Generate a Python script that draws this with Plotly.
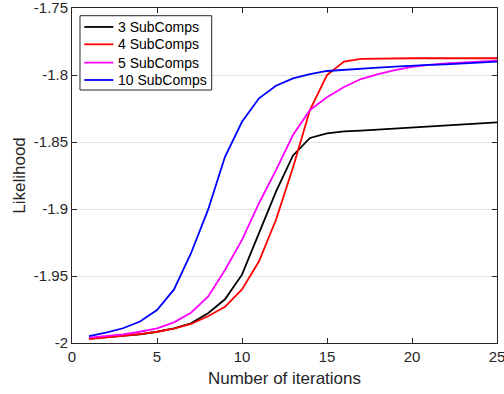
import plotly.graph_objects as go

iterations = list(range(1, 26))

sub3 = [-1.9968, -1.9957, -1.9948, -1.9935, -1.9916, -1.9890, -1.9853, -1.9778, -1.9674, -1.9490,
        -1.9180, -1.8870, -1.8600, -1.8470, -1.8435, -1.8420, -1.8415, -1.8407, -1.8400, -1.8392,
        -1.8385, -1.8377, -1.8370, -1.8360, -1.8353]
sub4 = [-1.9970, -1.9957, -1.9948, -1.9933, -1.9916, -1.9893, -1.9858, -1.9800, -1.9730, -1.9600,
        -1.9390, -1.9080, -1.8690, -1.8260, -1.8000, -1.7900, -1.7880, -1.7877, -1.7876, -1.7875,
        -1.7875, -1.7875, -1.7875, -1.7875, -1.7875]
sub5 = [-1.9960, -1.9948, -1.9935, -1.9916, -1.9890, -1.9846, -1.9774, -1.9654, -1.9455, -1.9231,
        -1.8957, -1.8710, -1.8448, -1.8261, -1.8166, -1.8090, -1.8030, -1.7993, -1.7963, -1.7940,
        -1.7924, -1.7914, -1.7907, -1.7900, -1.7893]
sub10 = [-1.9948, -1.9923, -1.9890, -1.9840, -1.9754, -1.9600, -1.9330, -1.9007, -1.8610, -1.8349,
         -1.8174, -1.8080, -1.8025, -1.7993, -1.7970, -1.7960, -1.7952, -1.7945, -1.7938, -1.7930,
         -1.7925, -1.7920, -1.7912, -1.7906, -1.7900]

series_names = ["3 SubComps", "4 SubComps", "5 SubComps", "10 SubComps"]
series_values = [sub3, sub4, sub5, sub10]
series_colors = ["#000000", "#ff0000", "#ff00ff", "#0000ff"]

x_ticks = [0, 5, 10, 15, 20, 25]
y_ticks = [-2, -1.95, -1.9, -1.85, -1.8, -1.75]
y_tick_text = ["-2", "-1.95", "-1.9", "-1.85", "-1.8", "-1.75"]

FONT = "Liberation Sans, Arial, sans-serif"
AXC = "#262626"

fig = go.Figure()
for name, vals, col in zip(series_names, series_values, series_colors):
    fig.add_trace(go.Scatter(x=iterations, y=vals, mode="lines", name=name,
                             line=dict(color=col, width=1.8), showlegend=False))

axis_common = dict(showline=True, linecolor=AXC, linewidth=1, mirror="ticks",
                   ticks="inside", ticklen=5, tickcolor=AXC, automargin=False,
                   ticklabeloverflow="allow",
                   tickfont=dict(family=FONT, size=15, color=AXC),
                   zeroline=False)

fig.update_xaxes(range=[0, 25], tickvals=x_ticks, showgrid=False,
                 title=dict(text="Number of iterations", font=dict(family=FONT, size=17, color=AXC), standoff=8),
                 **axis_common)
fig.update_yaxes(range=[-2, -1.75], tickvals=y_ticks, ticktext=y_tick_text, showgrid=True,
                 gridcolor="#e3e3e3", gridwidth=1,
                 title=dict(text="Likelihood", font=dict(family=FONT, size=17, color=AXC), standoff=3),
                 **axis_common)

# Legend drawn as a boxed key (paper coordinates)
box_x0, box_x1, box_y0, box_y1 = 0.0188, 0.3287, 0.7552, 0.977
entry_y = [0.9434, 0.8916, 0.8370, 0.7851]
shapes = [dict(type="rect", xref="paper", yref="paper", x0=box_x0, x1=box_x1, y0=box_y0, y1=box_y1,
               line=dict(color=AXC, width=1), fillcolor="white", layer="above")]
annotations = []
for name, col, ey in zip(series_names, series_colors, entry_y):
    shapes.append(dict(type="line", xref="paper", yref="paper", x0=0.029, x1=0.0972, y0=ey, y1=ey,
                       line=dict(color=col, width=1.8), layer="above"))
    annotations.append(dict(xref="paper", yref="paper", x=0.1035, y=ey, xanchor="left", yanchor="middle",
                            text=name, showarrow=False, font=dict(family=FONT, size=14, color="#000000")))

fig.update_layout(
    width=504, height=394,
    margin=dict(l=72, r=7, t=8, b=51),
    plot_bgcolor="white", paper_bgcolor="white",
    showlegend=False,
    shapes=shapes,
    annotations=annotations,
)

fig.write_html("out.html")
